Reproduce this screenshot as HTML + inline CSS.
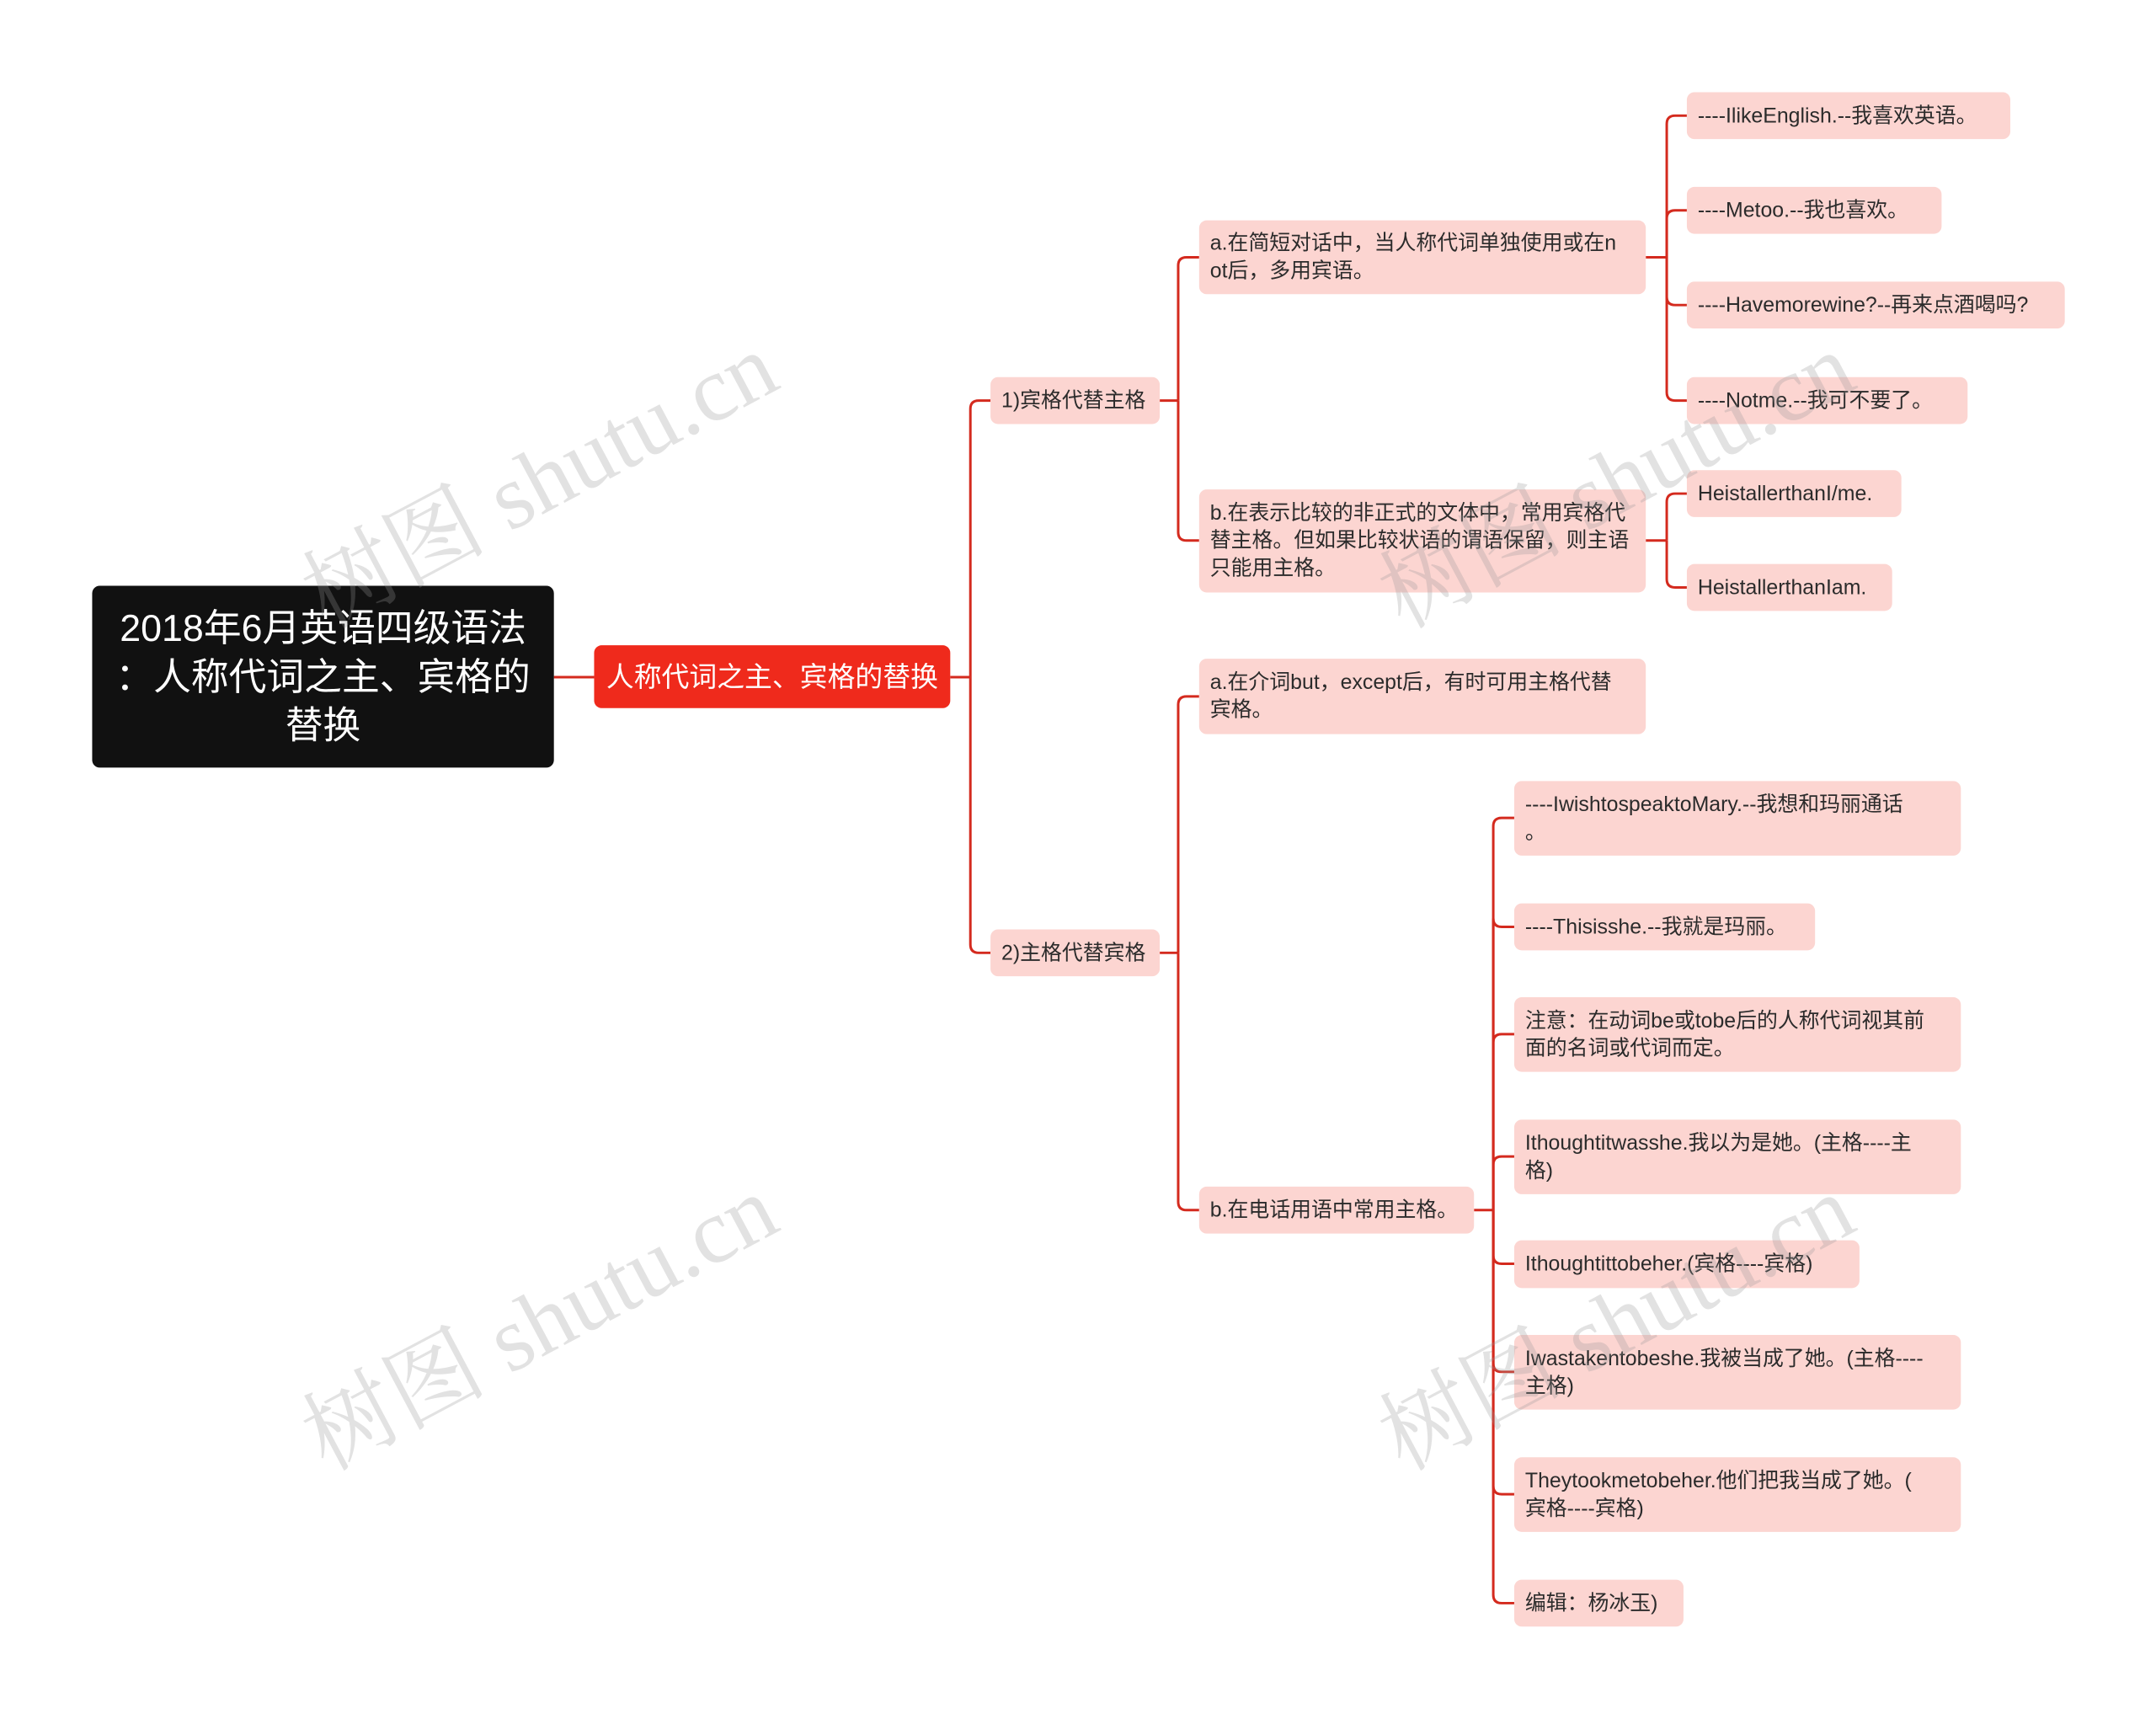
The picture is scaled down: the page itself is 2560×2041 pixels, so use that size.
<!DOCTYPE html>
<html><head><meta charset="utf-8"><style>
body{margin:0;width:2560px;height:2041px;background:#fff;position:relative;overflow:hidden;font-family:"Liberation Sans","Noto Sans CJK SC",sans-serif}
#w{position:absolute;left:0;top:0;width:2560px;height:2041px;transform:scale(0.995);transform-origin:0 0}
.n{position:absolute;box-sizing:border-box;display:flex;align-items:center;border-radius:9px;background:#fcd5d1;color:#2b2b2b;font-size:25px;line-height:33px;padding:0 13px;white-space:nowrap;overflow:hidden}
.wm{position:absolute;font-family:"Liberation Serif","Noto Serif CJK SC",serif;font-size:110px;color:rgba(150,150,150,0.28);transform:rotate(-28deg);white-space:nowrap;transform-origin:left top}
</style></head><body><div id="w">
<svg width="2560" height="2041" style="position:absolute;left:0;top:0">
<g fill="none" stroke="#d42a1e" stroke-width="3">
<path d="M661 808 H709"/>
<path d="M1134 808 H1158"/>
<path d="M1158 808 V488 Q1158 478 1168 478 H1182"/>
<path d="M1158 808 V1127 Q1158 1137 1168 1137 H1182"/>
<path d="M1384 478 H1406"/>
<path d="M1406 478 V317 Q1406 307 1416 307 H1431"/>
<path d="M1406 478 V635 Q1406 645 1416 645 H1431"/>
<path d="M1964 307 H1989"/>
<path d="M1989 307 V148 Q1989 138 1999 138 H2013"/>
<path d="M1989 307 V261 Q1989 251 1999 251 H2013"/>
<path d="M1989 307 V354 Q1989 364 1999 364 H2013"/>
<path d="M1989 307 V468 Q1989 478 1999 478 H2013"/>
<path d="M1964 645 H1989"/>
<path d="M1989 645 V599 Q1989 589 1999 589 H2013"/>
<path d="M1989 645 V691 Q1989 701 1999 701 H2013"/>
<path d="M1384 1137 H1406"/>
<path d="M1406 1137 V841 Q1406 831 1416 831 H1431"/>
<path d="M1406 1137 V1434 Q1406 1444 1416 1444 H1431"/>
<path d="M1759 1444 H1782"/>
<path d="M1782 1444 V986 Q1782 976 1792 976 H1807"/>
<path d="M1782 1444 V1096 Q1782 1106 1792 1106 H1807"/>
<path d="M1782 1444 V1244 Q1782 1234 1792 1234 H1807"/>
<path d="M1782 1444 V1390 Q1782 1380 1792 1380 H1807"/>
<path d="M1782 1444 V1498 Q1782 1508 1792 1508 H1807"/>
<path d="M1782 1444 V1627 Q1782 1637 1792 1637 H1807"/>
<path d="M1782 1444 V1773 Q1782 1783 1792 1783 H1807"/>
<path d="M1782 1444 V1903 Q1782 1913 1792 1913 H1807"/>
</g></svg>
<div class="n" style="left:110px;top:699px;width:551px;height:217px;background:#111;color:#fff;font-size:45px;line-height:58px;justify-content:center;text-align:center;padding:0">2018年6月英语四级语法<br>：人称代词之主、宾格的<br>替换</div>
<div class="n" style="left:709px;top:770px;width:425px;height:75px;background:#ef2a1c;color:#fff;font-size:33px;justify-content:center;padding:0">人称代词之主、宾格的替换</div>
<div class="n" style="left:1182px;top:450px;width:202px;height:56px">1)宾格代替主格</div>
<div class="n" style="left:1182px;top:1109px;width:202px;height:56px">2)主格代替宾格</div>
<div class="n" style="left:1431px;top:263px;width:533px;height:88px">a.在简短对话中，当人称代词单独使用或在n<br>ot后，多用宾语。</div>
<div class="n" style="left:1431px;top:584px;width:533px;height:123px">b.在表示比较的非正式的文体中，常用宾格代<br>替主格。但如果比较状语的谓语保留，则主语<br>只能用主格。</div>
<div class="n" style="left:2013px;top:110px;width:386px;height:56px">----IlikeEnglish.--我喜欢英语。</div>
<div class="n" style="left:2013px;top:223px;width:304px;height:56px">----Metoo.--我也喜欢。</div>
<div class="n" style="left:2013px;top:336px;width:451px;height:56px">----Havemorewine?--再来点酒喝吗?</div>
<div class="n" style="left:2013px;top:450px;width:335px;height:56px">----Notme.--我可不要了。</div>
<div class="n" style="left:2013px;top:561px;width:256px;height:56px">HeistallerthanI/me.</div>
<div class="n" style="left:2013px;top:673px;width:245px;height:56px">HeistallerthanIam.</div>
<div class="n" style="left:1431px;top:786px;width:533px;height:90px">a.在介词but，except后，有时可用主格代替<br>宾格。</div>
<div class="n" style="left:1431px;top:1416px;width:328px;height:56px">b.在电话用语中常用主格。</div>
<div class="n" style="left:1807px;top:932px;width:533px;height:89px">----IwishtospeaktoMary.--我想和玛丽通话<br>。</div>
<div class="n" style="left:1807px;top:1078px;width:359px;height:56px">----Thisisshe.--我就是玛丽。</div>
<div class="n" style="left:1807px;top:1190px;width:533px;height:89px">注意：在动词be或tobe后的人称代词视其前<br>面的名词或代词而定。</div>
<div class="n" style="left:1807px;top:1336px;width:533px;height:89px">Ithoughtitwasshe.我以为是她。(主格----主<br>格)</div>
<div class="n" style="left:1807px;top:1480px;width:412px;height:57px">Ithoughtittobeher.(宾格----宾格)</div>
<div class="n" style="left:1807px;top:1593px;width:533px;height:89px">Iwastakentobeshe.我被当成了她。(主格----<br>主格)</div>
<div class="n" style="left:1807px;top:1739px;width:533px;height:89px">Theytookmetobeher.他们把我当成了她。(<br>宾格----宾格)</div>
<div class="n" style="left:1807px;top:1885px;width:202px;height:56px">编辑：杨冰玉)</div>
<div class="wm" style="left:330px;top:640px">树图 shutu.cn</div>
<div class="wm" style="left:330px;top:1645px">树图 shutu.cn</div>
<div class="wm" style="left:1615px;top:640px">树图 shutu.cn</div>
<div class="wm" style="left:1615px;top:1645px">树图 shutu.cn</div>
</div></body></html>
